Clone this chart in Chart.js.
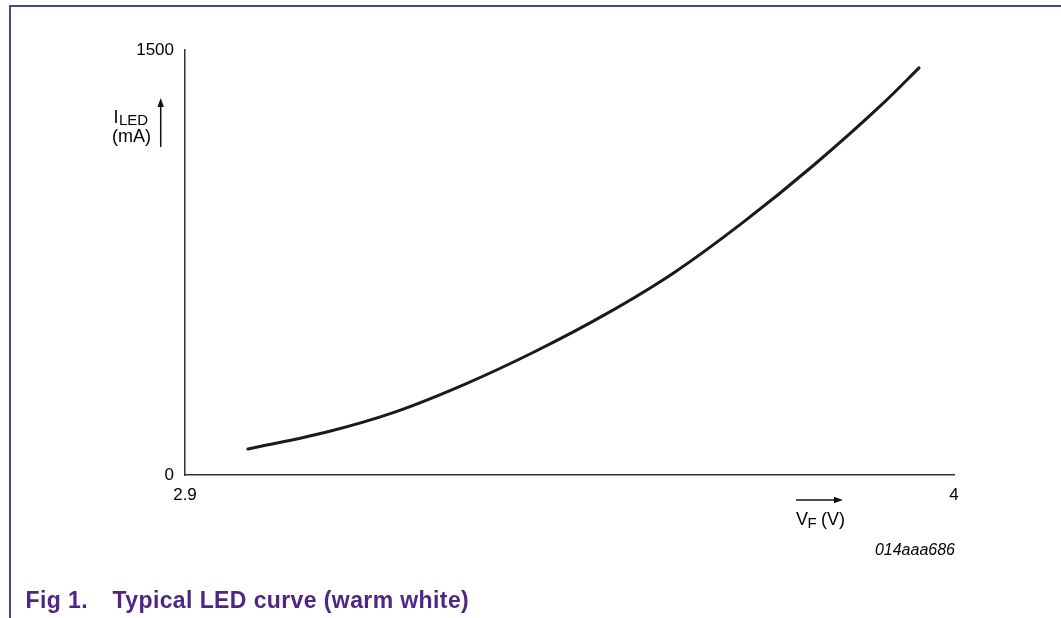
<!DOCTYPE html>
<html>
<head>
<meta charset="utf-8">
<script src="https://cdn.jsdelivr.net/npm/chart.js@4/dist/chart.umd.min.js"></script>
<style>
  html, body { margin:0; padding:0; background:#fff; }
  #wrap { position:relative; width:1061px; height:618px; overflow:hidden; font-family:"Liberation Sans", Arial, Helvetica, sans-serif; }
  #c { position:absolute; left:0; top:0; }
  .t { position:absolute; line-height:1; white-space:nowrap; color:#000; }
  #frame { position:absolute; left:8.5px; top:4.5px; right:-5px; bottom:-5px; border-top:2px solid #5b3f8c; border-left:2px solid #5b3f8c; }
  .cap { color:#4f2683; font-weight:bold; font-size:23px; letter-spacing:0.4px; }
  svg { position:absolute; left:0; top:0; }
</style>
</head>
<body>
<div id="wrap">
  <div id="frame"></div>
  <canvas id="c" width="1061" height="618"></canvas>
  <svg width="1061" height="618">
    <line x1="160.7" y1="147" x2="160.7" y2="105" stroke="#111" stroke-width="1.5"/>
    <polygon points="160.7,98 157.5,107 163.9,107" fill="#111"/>
    <line x1="796" y1="500" x2="836" y2="500" stroke="#111" stroke-width="1.5"/>
    <polygon points="843,500 834,496.8 834,503.2" fill="#111"/>
  </svg>
  <div class="t" style="left:113.5px; top:108px; font-size:18px;">I</div>
  <div class="t" style="left:119px; top:112px; font-size:15px;">LED</div>
  <div class="t" style="left:112px; top:127px; font-size:18px;">(mA)</div>
  <div class="t" style="left:796px; top:510px; font-size:18px;">V</div>
  <div class="t" style="left:807.5px; top:515px; font-size:15px;">F</div>
  <div class="t" style="left:821px; top:510px; font-size:18px;">(V)</div>
  <div class="t" style="right:106px; top:541.5px; font-size:16px; font-style:italic;">014aaa686</div>
  <div class="t cap" style="left:25.5px; top:589px;">Fig 1.</div>
  <div class="t cap" style="left:112.5px; top:589px;">Typical LED curve (warm white)</div>
</div>
<script>
// Forward voltage (V) and LED current (mA)
const forwardVoltage = [2.99, 3.1, 3.2, 3.3, 3.4, 3.5, 3.6, 3.7, 3.8, 3.9, 3.95];
const ledCurrent     = [92, 150, 222, 320, 435, 565, 715, 895, 1095, 1315, 1437];
// Axis tick values
const xTicks = [2.9, 4];
const yTicks = [0, 1500];

const points = forwardVoltage.map((v, i) => ({ x: v, y: ledCurrent[i] }));
const tickFont = { family: "'Liberation Sans', Arial, Helvetica, sans-serif", size: 17 };

new Chart(document.getElementById('c'), {
  type: 'line',
  data: {
    datasets: [{
      data: points,
      borderColor: '#1a1a1a',
      borderWidth: 3,
      borderCapStyle: 'round',
      pointRadius: 0,
      cubicInterpolationMode: 'monotone',
      fill: false
    }]
  },
  options: {
    responsive: false,
    devicePixelRatio: 1,
    animation: false,
    layout: { padding: { left: 0, top: 50, right: 107, bottom: 0 } },
    plugins: { legend: { display: false }, tooltip: { enabled: false } },
    scales: {
      x: {
        type: 'linear',
        min: xTicks[0], max: xTicks[xTicks.length - 1],
        grid: { display: false, drawTicks: false },
        border: { display: true, color: '#333', width: 1.5 },
        afterBuildTicks: s => { s.ticks = xTicks.map(v => ({ value: v })); },
        afterFit: s => { s.height = 143; },
        ticks: { color: '#000', font: tickFont, padding: 10, maxRotation: 0, autoSkip: false,
                 callback: v => String(v) }
      },
      y: {
        type: 'linear',
        min: yTicks[0], max: yTicks[yTicks.length - 1],
        grid: { display: false, drawTicks: false },
        border: { display: true, color: '#333', width: 1.5 },
        afterBuildTicks: s => { s.ticks = yTicks.map(v => ({ value: v })); },
        afterFit: s => { s.width = 185; },
        ticks: { color: '#000', font: tickFont, padding: 11, autoSkip: false,
                 callback: v => String(v) }
      }
    }
  }
});
</script>
</body>
</html>
